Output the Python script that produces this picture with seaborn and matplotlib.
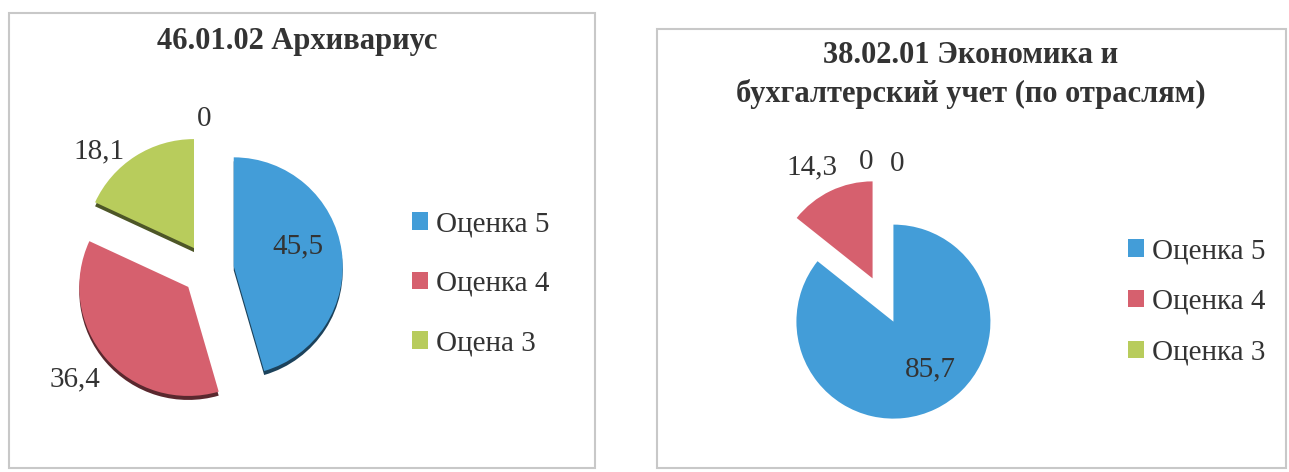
import math
import numpy as np
import matplotlib
matplotlib.use("Agg")
import matplotlib.pyplot as plt
from matplotlib.patches import Rectangle
import seaborn as sns

# ---------------- data ----------------
left_title = "46.01.02 Архивариус"
left_categories = ["Оценка 5", "Оценка 4", "Оцена 3", ""]
left_values = [45.5, 36.4, 18.1, 0]
left_labels = ["45,5", "36,4", "18,1", "0"]

right_title = "38.02.01 Экономика и\nбухгалтерский учет (по отраслям)"
right_categories = ["Оценка 5", "Оценка 4", "Оценка 3", ""]
right_values = [85.7, 14.3, 0, 0]
right_labels = ["85,7", "14,3", "0", "0"]

# ---------------- style ----------------
sns.set_style("white")
plt.rcParams["font.family"] = ["Liberation Serif", "DejaVu Serif"]
palette = sns.color_palette(["#439dd8", "#d6606e", "#b8cc5c", "#9a9a9a"])
TEXT = "#333333"
LABEL_FS = 21
LEGEND_FS = 21
TITLE_FS = 22

W, H = 1289, 472
fig = plt.figure(figsize=(W / 100, H / 100), dpi=100)
fig.patch.set_facecolor("white")


def px(y):
    return H - y


def make_axes():
    ax = fig.add_axes([0, 0, 1, 1])
    ax.set_facecolor("none")
    return ax


def draw_pie(ax, values, labels, center, radius, explode, label_style,
             shadow=None):
    cx, cy = center
    if shadow is not None:
        sdx, sdy = shadow
        dark = [tuple(c * 0.42 for c in col) for col in palette]
        ax.pie(values, colors=dark, startangle=90, counterclock=False,
               center=(cx + sdx, px(cy) + sdy), radius=radius,
               explode=[explode] * len(values),
               wedgeprops=dict(linewidth=0))
    wedges, _ = ax.pie(values, colors=palette, startangle=90,
                       counterclock=False, center=(cx, px(cy)),
                       radius=radius, explode=[explode] * len(values),
                       wedgeprops=dict(linewidth=0))
    for w, lab, (f, dang) in zip(wedges, labels, label_style):
        mid = 0.5 * (w.theta1 + w.theta2) + dang
        x0, y0 = w.center
        tx = x0 + f * w.r * math.cos(math.radians(mid))
        ty = y0 + f * w.r * math.sin(math.radians(mid))
        ax.text(tx, ty - 2, lab, ha="center", va="center",
                fontsize=LABEL_FS, color=TEXT)
    ax.set_xlim(0, W)
    ax.set_ylim(0, H)
    ax.set_aspect("auto")
    ax.axis("off")
    return wedges


# Left chart
axL = make_axes()
axL.add_patch(Rectangle((9, px(468)), 586, 455, fill=False,
                        edgecolor="#c8c8c8", linewidth=1.5))
wl = draw_pie(axL, left_values, left_labels,
              center=(208, 270), radius=109, explode=26,
              label_style=[(0.62, 11.3), (1.33, -2), (1.26, 11.4), (1.17, 1.8)],
              shadow=(0, -4))
axL.text(297, px(41), left_title, ha="center", va="center",
         fontsize=TITLE_FS, fontweight="bold", color=TEXT)
axL.legend(wl[:3], left_categories[:3], loc="center left",
           bbox_to_anchor=(400 / W, px(284) / H), frameon=False,
           fontsize=LEGEND_FS, handlelength=0.55, handleheight=0.55,
           handletextpad=0.3, labelspacing=1.15, labelcolor=TEXT,
           borderaxespad=0)

# Right chart
axR = make_axes()
axR.add_patch(Rectangle((657, px(468)), 629, 439, fill=False,
                        edgecolor="#c8c8c8", linewidth=1.5))
wr = draw_pie(axR, right_values, right_labels,
              center=(883, 300), radius=97, explode=24,
              label_style=[(0.60, 13.2), (1.32, 2.6), (1.21, 8.3), (1.18, -7)])
axR.text(971, px(75), right_title, ha="center", va="center",
         fontsize=TITLE_FS, fontweight="bold", color=TEXT, linespacing=1.4)
axR.legend(wr[:3], right_categories[:3], loc="center left",
           bbox_to_anchor=(1116 / W, px(302) / H), frameon=False,
           fontsize=LEGEND_FS, handlelength=0.55, handleheight=0.55,
           handletextpad=0.3, labelspacing=0.85, labelcolor=TEXT,
           borderaxespad=0)

fig.savefig("out.png", dpi=100)
